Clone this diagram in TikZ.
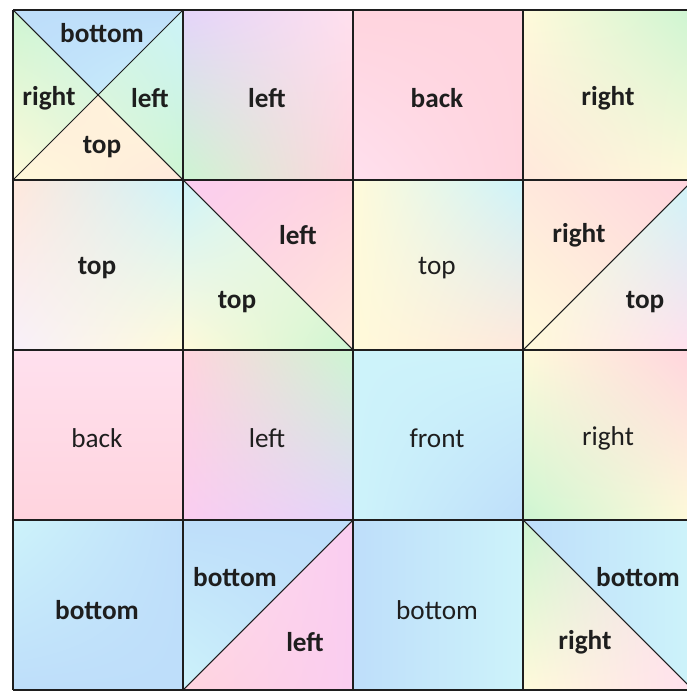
\documentclass[tikz,border=0pt]{standalone}
\usepackage{fontspec}
\setmainfont{Carlito}
\usetikzlibrary{positioning, shadings}
\definecolor{sky}{RGB}{190,222,250}
\definecolor{ice}{RGB}{205,243,250}
\definecolor{mint}{RGB}{205,245,210}
\definecolor{lemon}{RGB}{255,250,218}
\definecolor{peach}{RGB}{255,232,220}
\definecolor{rose}{RGB}{255,212,222}
\definecolor{blush}{RGB}{255,224,238}
\definecolor{lilac}{RGB}{228,212,250}
\definecolor{orchid}{RGB}{250,205,240}
\definecolor{haze}{RGB}{248,240,250}
\definecolor{ink}{RGB}{30,30,30}

\tikzset{
  face/.style={font=\fontsize{15.5}{18}\selectfont, text=ink, inner sep=1pt},
  bface/.style={font=\fontsize{15.5}{18}\selectfont\bfseries, text=ink, inner sep=1pt},
  gridline/.style={line width=1.1pt, draw=ink},
  cutline/.style={line width=0.6pt, draw=ink},
}

\begin{document}
\begin{tikzpicture}[x=0.02cm, y=-0.02cm]
  \useasboundingbox (0,0) rectangle (686,692);
  \fill[white] (0,0) rectangle (686,692);

  % plain cells: column/row/corner colours
  \foreach \c/\r/\ul/\ur/\ll/\lr in {
      1/1/mint/ice/lemon/mint, 2/1/lilac/blush/mint/rose, 3/1/rose/rose/blush/rose, 4/1/lemon/mint/peach/lemon,
      1/2/peach/ice/haze/lemon, 3/2/lemon/ice/lemon/peach,
      1/3/blush/blush/rose/rose, 2/3/rose/mint/orchid/lilac, 3/3/ice/ice/ice/sky, 4/3/lemon/rose/mint/lemon,
      1/4/ice/sky/sky/sky, 3/4/sky/ice/sky/ice}
    \shade[upper left=\ul, upper right=\ur, lower left=\ll, lower right=\lr]
      ({13+170*(\c-1)},{10+170*(\r-1)}) rectangle +(170,170);

  % split cells
  \shade[upper left=sky, upper right=sky, lower left=sky, lower right=ice]
    (13,10) -- (183,10) -- (98,95) -- cycle;
  \shade[upper left=peach, upper right=lemon, lower left=lemon, lower right=peach]
    (13,180) -- (183,180) -- (98,95) -- cycle;
  \shade[upper left=orchid, upper right=rose, lower left=rose, lower right=peach]
    (183,180) -- (353,180) -- (353,350) -- cycle;
  \shade[upper left=ice, upper right=lemon, lower left=lemon, lower right=mint]
    (183,180) -- (353,350) -- (183,350) -- cycle;
  \shade[upper left=peach, upper right=rose, lower left=lemon, lower right=peach]
    (523,180) -- (693,180) -- (523,350) -- cycle;
  \shade[upper left=lemon, upper right=ice, lower left=lemon, lower right=blush]
    (693,180) -- (693,350) -- (523,350) -- cycle;
  \shade[upper left=sky, upper right=sky, lower left=ice, lower right=sky]
    (183,520) -- (353,520) -- (183,690) -- cycle;
  \shade[upper left=blush, upper right=orchid, lower left=rose, lower right=orchid]
    (353,520) -- (353,690) -- (183,690) -- cycle;
  \shade[upper left=sky, upper right=ice, lower left=sky, lower right=ice]
    (523,520) -- (693,520) -- (693,690) -- cycle;
  \shade[upper left=mint, upper right=blush, lower left=lemon, lower right=blush]
    (523,520) -- (693,690) -- (523,690) -- cycle;

  % grid
  \foreach \k in {0,...,4} {
    \draw[gridline] ({13+170*\k},10) -- ({13+170*\k},690);
    \draw[gridline] (13,{10+170*\k}) -- (693,{10+170*\k});
  }
  \draw[cutline] (13,10) -- (183,180);
  \draw[cutline] (183,10) -- (13,180);
  \draw[cutline] (183,180) -- (353,350);
  \draw[cutline] (523,350) -- (693,180);
  \draw[cutline] (183,690) -- (353,520);
  \draw[cutline] (523,520) -- (693,690);

  % row 1
  \node[bface] (aBottom) at (102,33) {bottom};
  \node[bface] (aRight) at (49,98) {right};
  \node[bface] (aLeft) at (150,98) {left};
  \node[bface] (aTop) at (102,147) {top};
  \node[bface] (bLeft) at (267,98) {left};
  \node[bface] (cBack) at (437,98) {back};
  \node[bface] (dRight) at (608,98) {right};
  % row 2
  \node[bface] (eTop) at (97,268) {top};
  \node[bface] (fLeft) at (298,235) {left};
  \node[bface] (fTop) at (237,302) {top};
  \node[face] (gTop) at (437,268) {top};
  \node[bface] (hRight) at (579,235) {right};
  \node[bface] (hTop) at (645,302) {top};
  % row 3
  \node[face] (iBack) at (97,438) {back};
  \node[face] (jLeft) at (267,438) {left};
  \node[face] (kFront) at (437,438) {front};
  \node[face] (lRight) at (608,438) {right};
  % row 4
  \node[bface] (mBottom) at (97,610) {bottom};
  \node[bface] (nBottom) at (235,577) {bottom};
  \node[bface] (nLeft) at (305,642) {left};
  \node[face] (oBottom) at (437,610) {bottom};
  \node[bface] (pBottom) at (638,577) {bottom};
  \node[bface] (pRight) at (585,642) {right};
\end{tikzpicture}
\end{document}
